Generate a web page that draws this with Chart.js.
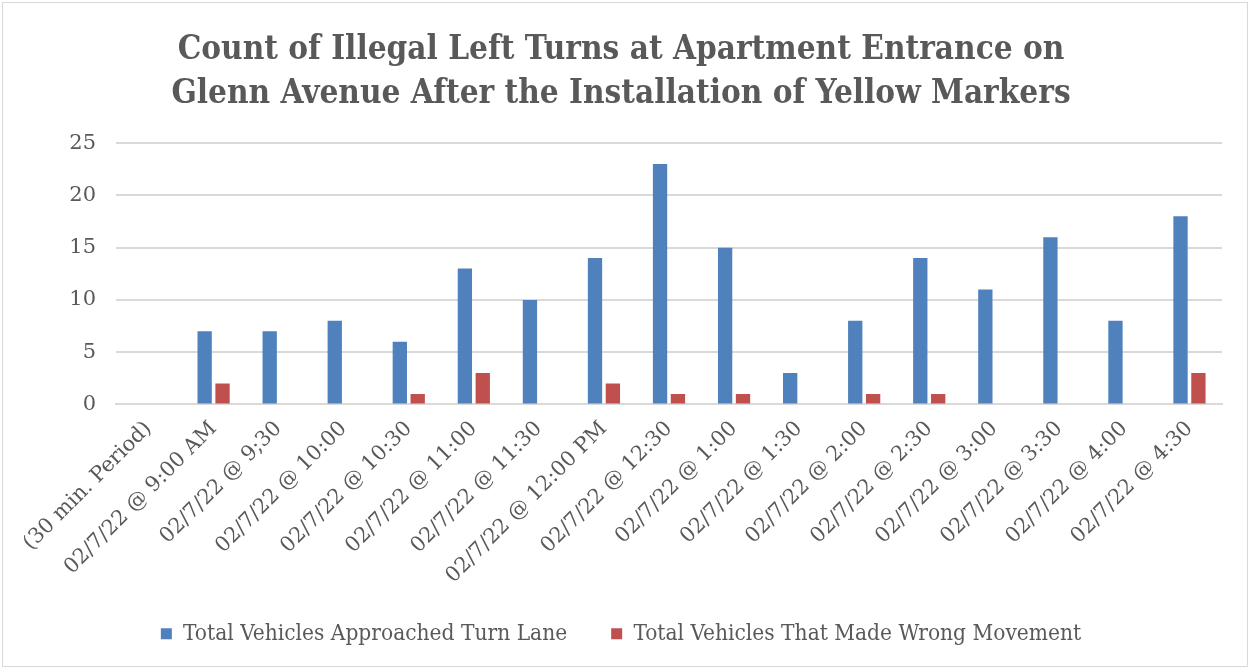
<!DOCTYPE html>
<html>
<head>
<meta charset="utf-8">
<script src="https://cdn.jsdelivr.net/npm/chart.js@4.4.1/dist/chart.umd.min.js"></script>
<style>
  html, body { margin: 0; padding: 0; background: #fff; }
  .frame { position: absolute; left: 2px; top: 2px; width: 1244px; height: 663px; border: 1px solid #d9d9d9; }
  canvas { position: absolute; left: 0; top: 0; }
</style>
</head>
<body>
<div class="frame"></div>
<canvas id="grafica" width="1250" height="669"></canvas>
<script>
const periodos = [
  '(30 min. Period)', '02/7/22 @ 9:00 AM', '02/7/22 @ 9;30', '02/7/22 @ 10:00',
  '02/7/22 @ 10:30', '02/7/22 @ 11:00', '02/7/22 @ 11:30', '02/7/22 @ 12:00 PM',
  '02/7/22 @ 12:30', '02/7/22 @ 1:00', '02/7/22 @ 1:30', '02/7/22 @ 2:00',
  '02/7/22 @ 2:30', '02/7/22 @ 3:00', '02/7/22 @ 3:30', '02/7/22 @ 4:00', '02/7/22 @ 4:30'
]
const totalVehiculos = [null, 7, 7, 8, 6, 13, 10, 14, 23, 15, 3, 8, 14, 11, 16, 8, 18]
const vueltasIlegales = [null, 2, 0, 0, 1, 3, 0, 2, 1, 1, 0, 1, 1, 0, 0, 0, 3]
const tituloLineas = [
  'Count of Illegal Left Turns at Apartment Entrance on',
  'Glenn Avenue After the Installation of Yellow Markers'
]

const gris = '#595959'
const ctx = document.getElementById('grafica')

// sube la leyenda sin cambiar la separacion horizontal entre items
const subirLeyenda = {
  id: 'subirLeyenda',
  afterLayout(chart) {
    chart.legend.top -= 14
    chart.legend.bottom -= 14
  }
}

const grafica = new Chart(ctx, {
  type: 'bar',
  data: {
    labels: periodos,
    datasets: [{
      label: 'Total Vehicles Approached Turn Lane',
      data: totalVehiculos,
      backgroundColor: '#4f81bd',
      borderWidth: 0
    }, {
      label: 'Total Vehicles That Made Wrong Movement',
      data: vueltasIlegales,
      backgroundColor: '#c0504d',
      borderWidth: 0
    }]
  },
  options: {
    responsive: false,
    animation: false,
    categoryPercentage: 0.55,
    barPercentage: 0.8,
    layout: { padding: { left: 20, right: 28, top: 10, bottom: 0 } },
    plugins: {
      title: {
        display: true,
        text: tituloLineas,
        color: gris,
        font: { family: 'DejaVu Serif Condensed', size: 33, weight: 'bold', lineHeight: 1.35 },
        padding: { top: 18, bottom: 26 }
      },
      legend: {
        position: 'bottom',
        labels: {
          color: gris,
          font: { family: 'DejaVu Serif Condensed', size: 22.5 },
          boxWidth: 11,
          boxHeight: 11,
          padding: 44
        }
      },
      tooltip: { enabled: false }
    },
    scales: {
      x: {
        grid: { display: false },
        border: { color: '#d9d9d9', width: 2 },
        ticks: {
          color: gris,
          font: { family: 'DejaVu Serif', size: 21 },
          maxRotation: 45,
          minRotation: 45,
          autoSkip: false,
          padding: 4
        }
      },
      y: {
        min: 0,
        max: 25,
        ticks: {
          stepSize: 5,
          color: gris,
          font: { family: 'DejaVu Serif', size: 21 },
          padding: 20
        },
        grid: { color: '#d9d9d9', lineWidth: 2, drawTicks: false },
        border: { display: false },
        afterFit: (scale) => { scale.width = 96 }
      }
    }
  },
  plugins: [subirLeyenda]
})
</script>
</body>
</html>
